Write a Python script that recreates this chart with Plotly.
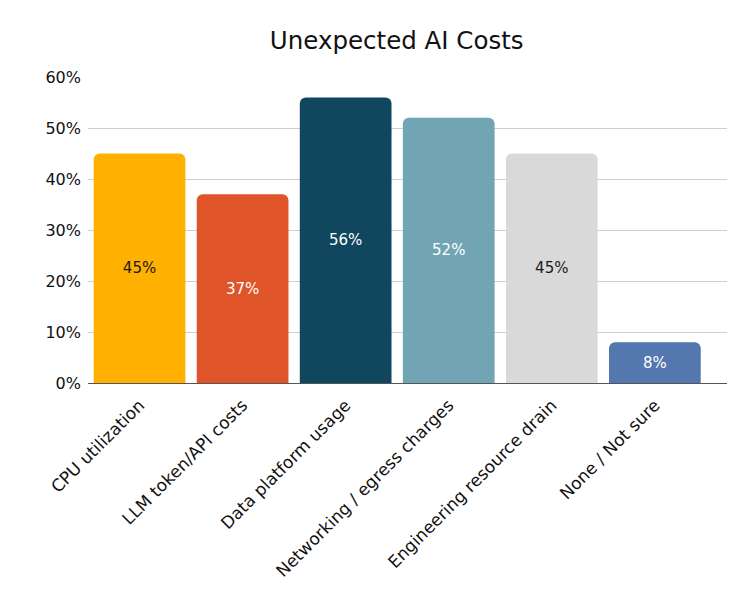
import plotly.graph_objects as go

categories = ["CPU utilization", "LLM token/API costs", "Data platform usage",
              "Networking / egress charges", "Engineering resource drain", "None / Not sure"]
values = [45, 37, 56, 52, 45, 8]
labels = ["45%", "37%", "56%", "52%", "45%", "8%"]
colors = ["#FFB000", "#E0542A", "#10475F", "#72A5B3", "#D9D9D9", "#5577B0"]
text_colors = ["#1a1a1a", "#ffffff", "#ffffff", "#ffffff", "#1a1a1a", "#ffffff"]
y_ticks = [0, 10, 20, 30, 40, 50, 60]
y_tick_labels = ["0%", "10%", "20%", "30%", "40%", "50%", "60%"]

FONT = "DejaVu Sans, Open Sans, sans-serif"

fig = go.Figure(go.Bar(
    x=categories, y=values, text=labels,
    marker=dict(color=colors, line=dict(width=0)),
    textposition="inside", insidetextanchor="middle",
    textfont=dict(color=text_colors, size=15, family=FONT),
    textangle=0,
))

fig.update_layout(
    width=736, height=596,
    margin=dict(l=88, r=9, t=77, b=213),
    paper_bgcolor="white", plot_bgcolor="white",
    title=dict(text="Unexpected AI Costs", x=0.539, xanchor="center", y=0.933, yanchor="middle",
               font=dict(size=24.5, color="#111111", family=FONT)),
    bargap=0.11,
    barcornerradius=6,
    showlegend=False,
    font=dict(family=FONT, color="#111111"),
)
fig.update_yaxes(range=[0, 60], tickvals=y_ticks, ticktext=y_tick_labels,
                 showgrid=True, gridcolor="#cfcfcf", gridwidth=1,
                 zeroline=True, zerolinecolor="#555555", zerolinewidth=1,
                 tickfont=dict(size=16, color="#111111"), ticks="", ticklabelstandoff=6)
fig.update_xaxes(range=[-0.5, 5.7], tickangle=-45, tickfont=dict(size=17, color="#111111"),
                 showline=False, ticks="", ticklabelstandoff=8)

fig.write_html("out.html")
